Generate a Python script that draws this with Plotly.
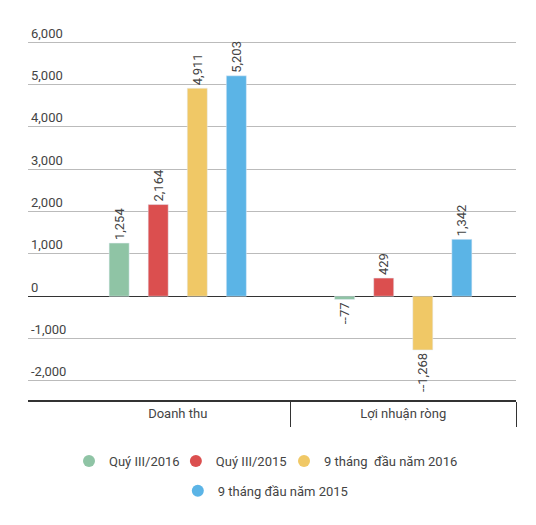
import plotly.graph_objects as go

categories = ["Doanh thu", "Lợi nhuận ròng"]
series_names = ["Quý III/2016", "Quý III/2015", "9 tháng\u00a0 đầu năm 2016", "9 tháng đầu năm 2015"]
q3_2016 = [1254, -77]
q3_2015 = [2164, 429]
m9_2016 = [4911, -1268]
m9_2015 = [5203, 1342]
series_values = [q3_2016, q3_2015, m9_2016, m9_2015]
colors = ["#8FC4A5", "#DB4F4F", "#F0C866", "#5BB4E6"]
legend_ids = ["legend", "legend2", "legend3", "legend4"]
legend_x = [0.084, 0.303, 0.5246, 0.307]
legend_y = [-0.162, -0.162, -0.162, -0.241]
y_ticks = [-2000, -1000, 0, 1000, 2000, 3000, 4000, 5000, 6000]
y_tick_labels = ["-2,000", "-1,000", "0", "1,000", "2,000", "3,000", "4,000", "5,000", "6,000"]


def fmt(v):
    s = f"{abs(v):,}"
    return s if v >= 0 else "--" + s


fig = go.Figure()
for name, vals, col in zip(series_names, series_values, colors):
    fig.add_trace(go.Bar(
        x=categories, y=vals, name=name, marker_color=col, showlegend=False,
        text=[fmt(v) for v in vals], textposition="outside", textangle=-90,
        textfont=dict(family="Roboto", size=13, color="#444"),
        cliponaxis=False, constraintext="none",
    ))
for name, col, lg in zip(series_names, colors, legend_ids):
    fig.add_trace(go.Scatter(
        x=[None], y=[None], mode="markers", name=name, legend=lg,
        marker=dict(symbol="circle", size=16, color=col),
    ))

legends = {
    lg: dict(orientation="h", xanchor="left", yanchor="middle", x=lx, y=ly,
             font=dict(size=13, color="#444"), itemsizing="constant",
             bgcolor="rgba(0,0,0,0)")
    for lg, lx, ly in zip(legend_ids, legend_x, legend_y)
}

fig.update_layout(
    width=528, height=517,
    margin=dict(l=20, r=20, t=15, b=125),
    paper_bgcolor="white", plot_bgcolor="white",
    font=dict(family="Roboto", size=13, color="#444"),
    barmode="group", bargap=0.307, bargroupgap=0.487,
    xaxis=dict(
        type="category", range=[-0.664, 1.5], tickson="boundaries",
        ticks="outside", ticklen=25, tickcolor="#333", tickwidth=1,
        showline=True, linecolor="#333", linewidth=2, showgrid=False,
        tickfont=dict(size=13, color="#444"),
    ),
    yaxis=dict(
        range=[-2450, 6450], tickvals=y_ticks, ticktext=y_tick_labels,
        ticklabelposition="inside top", showgrid=True, gridcolor="#BBBBBB",
        gridwidth=1, zeroline=True, zerolinecolor="#333", zerolinewidth=1,
        tickfont=dict(size=13, color="#444"), ticks="",
    ),
    **legends,
)
fig.write_html("out.html")
